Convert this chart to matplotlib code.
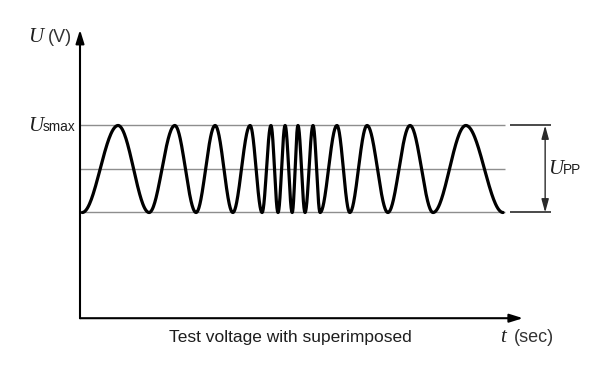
"""
Test voltage with superimposed sweep: U over t, drawn as a plain diagram.
"""

import numpy as np
import matplotlib

matplotlib.use("Agg")
import matplotlib.pyplot as plt

matplotlib.rcParams.update(
    {
        "font.family": ["Liberation Sans", "DejaVu Sans"],
        "figure.dpi": 100,
        "figure.facecolor": "white",
    }
)

# ─── data ──────────────────────────────────────────
# times of the alternating troughs / peaks of the swept wave (t units, axis = 0..100)
extrema_t = [0.5, 8.6, 15.6, 21.4, 26.2, 30.5, 34.5, 38.4, 41.1, 43.1, 44.7, 46.3,
             47.9, 49.2, 50.8, 52.6, 54.2, 58.0, 60.9, 64.8, 69.5, 74.5, 79.7, 87.1, 95.5]
extrema_u = [-1, 1] * 12 + [-1]          # trough, peak, trough ...
ref_levels = [1.0, 0.0, -1.0]            # U_smax, centre, lower level
ref_end = 95.9                           # reference lines stop here
t_axis_end = 100.0
u_axis_bottom = -3.43
u_axis_top = 3.2

# ─── layout (pixel <-> data) ───────────────────────
W, H = 600, 366
PX_T, PX_U = 4.43, 43.5                  # pixels per data unit
X0, Y0 = 80, 169                         # pixel position of t=0, U=0

COL_TEXT = "#1e1e1e"
COL_REF = "#8e8e8e"
SERIF = ["Liberation Serif", "DejaVu Serif"]


def swept_wave(ts, us, n=60):
    """Half-cosine segments between successive extrema."""
    tt, uu = [], []
    for (a, ua), (b, ub) in zip(zip(ts[:-1], us[:-1]), zip(ts[1:], us[1:])):
        s = np.linspace(0, 1, n)
        tt.append(a + (b - a) * s)
        uu.append(ua + (ub - ua) * (1 - np.cos(np.pi * s)) / 2)
    return np.concatenate(tt), np.concatenate(uu)


def ftxt(x, y, s, **kw):
    """Text at a pixel position (from top-left)."""
    kw.setdefault("color", COL_TEXT)
    fig.text(x / W, 1 - y / H, s, **kw)


fig = plt.figure(figsize=(W / 100, H / 100))
ax = fig.add_axes([0, 0, 1, 1])
ax.set_xlim(-X0 / PX_T, (W - X0) / PX_T)
ax.set_ylim(-(H - Y0) / PX_U, Y0 / PX_U)
ax.axis("off")

# reference levels
for lv in ref_levels:
    ax.plot([0, ref_end], [lv, lv], color=COL_REF, lw=1.0, solid_capstyle="butt")

# wave
t, u = swept_wave(extrema_t, extrema_u)
ax.plot(t, u, color="black", lw=2.3, solid_capstyle="round")

# axes with arrows
head = "-|>,head_length=0.8,head_width=0.25"
ax.annotate("", xy=(0, u_axis_top), xytext=(0, u_axis_bottom),
            arrowprops=dict(arrowstyle=head, color="black", lw=1.5,
                            shrinkA=0, shrinkB=0))
ax.annotate("", xy=(t_axis_end, u_axis_bottom), xytext=(0, u_axis_bottom),
            arrowprops=dict(arrowstyle=head, color="black", lw=1.5,
                            shrinkA=0, shrinkB=0))

# U_PP bracket
b0, b1, bx = 97.1, 106.3, 105.0
for lv in (ref_levels[0], ref_levels[2]):
    ax.plot([b0, b1], [lv, lv], color="#3a3a3a", lw=1.3, solid_capstyle="butt")
ax.annotate("", xy=(bx, ref_levels[0]), xytext=(bx, ref_levels[2]),
            arrowprops=dict(arrowstyle="<|-|>,head_length=0.8,head_width=0.22",
                            color="#2a2a2a", lw=1.0, shrinkA=0, shrinkB=0))

# labels
ftxt(28, 42, "U", family=SERIF, style="italic", fontsize=15, va="baseline")
ftxt(48, 42, "(V)", fontsize=13, va="baseline", color="#333333")

ftxt(28, 131, "U", family=SERIF, style="italic", fontsize=15, va="baseline")
ftxt(43, 131, "smax", fontsize=9.8, va="baseline")

ftxt(548, 174, "U", family=SERIF, style="italic", fontsize=15, va="baseline")
ftxt(563, 174, "PP", fontsize=9.8, va="baseline")

ftxt(290, 342, "Test voltage with superimposed", fontsize=12.5,
     ha="center", va="baseline")
ftxt(500, 342, "t", family=SERIF, style="italic", fontsize=15, va="baseline")
ftxt(514, 342, "(sec)", fontsize=13, va="baseline", color="#333333")

fig.savefig("out.png", dpi=100)
